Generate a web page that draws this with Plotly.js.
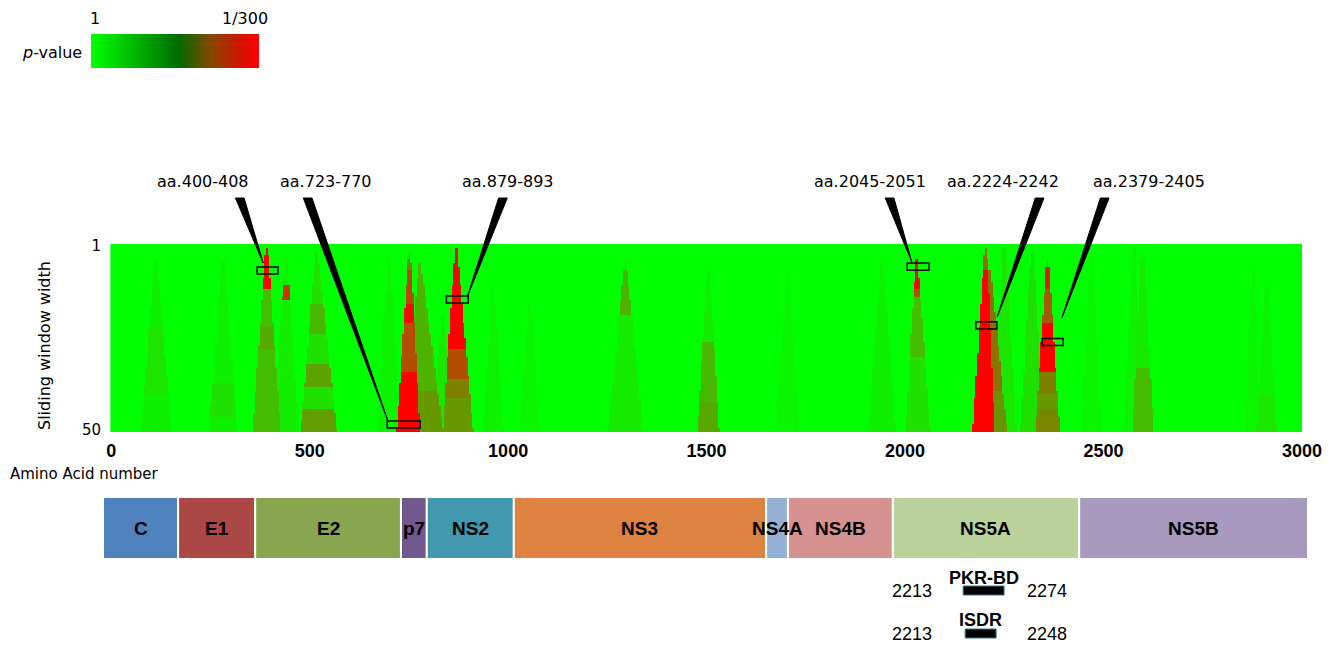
<!DOCTYPE html>
<html><head><meta charset="utf-8">
<script src="https://cdn.plot.ly/plotly-3.0.1.min.js"></script>
<style>html,body{margin:0;padding:0;background:#fff;}#chart{width:1336px;height:645px;}</style>
</head><body><div id="chart"></div>
<script>
// ---------------- DATA ----------------
const windowWidths = 50;          // sliding window widths 1..50
const aaStep = 4;                 // column resolution (amino acids)
const aaMax = 3000;
const xTickValues = [0, 500, 1000, 1500, 2000, 2500, 3000];
const yTickValues = [1, 50];

// significance peaks (value: 0 = p 1 ... 1 = p 1/300)
const peakCenter  = [113, 282, 392, 441, 518, 700, 752, 778, 869, 835, 963, 1055, 1296, 1505, 1705, 1943, 2030, 2204, 2215, 2251, 2321, 2360, 2470, 2577, 2600, 2877, 2912];
const peakApexRow = [5,   5,   2,   5,   3,   5,   3,   6,   2,   20,  13,  17,   6,    8,    10,   6,    5,    2,    8,    2,    3,    5,    3,    2,    3,    8,    11];
const peakHalfWidthLeft  = [38, 35, 35, 32, 40, 30, 32, 40, 33, 25, 25, 25, 44, 27, 30, 35, 28, 33, 22, 30, 30, 30, 25, 25, 27, 20, 25];
const peakHalfWidthRight = [38, 35, 35, 32, 50, 30, 26, 58, 43, 25, 25, 25, 44, 27, 30, 35, 34, 23, 42, 30, 30, 30, 25, 25, 27, 20, 25];
const peakBaseValue = [0.06, 0.06, 0.26, 0.07, 0.12, 0.05, 0.5, 0.3, 0.4, 0.1, 0.05, 0.04, 0.08, 0.08, 0.04, 0.06, 0.12, 1.0, 0.55, 0.1, 0.12, 0.45, 0.04, 0.05, 0.08, 0.04, 0.05];
const peakBands = [
  [[23,41,0.11]],
  [[38,47,0.12]],
  [[2,13,1.0],[23,29,0.34]],
  [[12,16,0.8]],
  [[17,25,0.28],[33,39,0.36],[45,51,0.38]],
  [],
  [[8,17,0.72],[17,22,0.95],[22,35,0.7],[35,51,1.0]],
  [[40,51,0.4]],
  [[2,29,1.0],[29,37,0.7],[37,42,0.5]],
  [], [], [],
  [[6,20,0.3]],
  [[27,43,0.28],[43,51,0.34]],
  [], [],
  [[5,13,1.0],[13,15,0.7],[15,31,0.26]],
  [[2,8,0.6]],
  [[40,51,0.42]],
  [], [],
  [[7,13,0.9],[13,22,0.65],[22,35,1.0],[35,41,0.5],[41,45,0.4],[45,51,0.48]],
  [], [],
  [[34,51,0.26]],
  [],
  [[41,51,0.1]]
];

// highlighted regions (callouts)
const calloutLabels     = ['aa.400-408','aa.723-770','aa.879-893','aa.2045-2051','aa.2224-2242','aa.2379-2405'];
const calloutLabelAA    = [232, 542, 1000, 1912, 2247, 2615];
const calloutWedgeTopAA = [324, 495, 987, 1961, 2339, 2503];
const calloutTipAA      = [383, 698, 897, 2017, 2232, 2395];
const calloutTipRow     = [5.55, 47.8, 14.6, 5.3, 19.9, 20.2];
const calloutBoxAA      = [394, 737, 872, 2033, 2205, 2372];
const calloutBoxWidthAA = [53, 83, 55, 55, 53, 53];
const calloutBoxRow     = [7.55, 48.5, 15.25, 6.5, 22.15, 26.55];

// genome map
const proteinNames = ['C','E1','E2','p7','NS2','NS3','NS4A','NS4B','NS5A','NS5B'];
const proteinStart = [0, 189, 383, 750, 815, 1034, 1669, 1724, 1988, 2457];
const proteinEnd   = [189, 383, 750, 815, 1034, 1669, 1724, 1988, 2457, 3033];

const motifNames = ['PKR-BD', 'ISDR'];
const motifStartLabel = ['2213', '2213'];
const motifEndLabel   = ['2274', '2248'];
const motifDrawStart  = [2165, 2170];
const motifDrawEnd    = [2268, 2248];

const legendLabels = ['1', '1/300'];

// ---------------- STYLE ----------------
const W = 1336, H = 645;
const px = v => v / W, py = v => 1 - v / H;
const FONT_REG = 'DejaVu Sans, Liberation Sans, sans-serif';
const FONT_BOLD = 'Liberation Sans, Arial, sans-serif';
const proteinColors = ['#4f81bd','#ab4845','#8aa54f','#71588f','#4198af','#dd8240','#95b0d5','#d69291','#bcd29c','#a899bf'];
const heatScale = [[0,'#00ff00'],[1,'#ff0000']];
const legendScale = [[0,'#00ff00'],[0.52,'#006b00'],[0.72,'#8a4500'],[0.9,'#d81000'],[1,'#ff0000']];

const xDomain = [px(108), px(1302)];
const yDomain = [py(432), py(244)];
const rowToPaper = r => yDomain[0] + (yDomain[1] - yDomain[0]) * (50.5 - r) / 50;

// ---------------- BUILD HEATMAP ----------------
const xs = []; for (let a = 0; a <= aaMax; a += aaStep) xs.push(a);
const ys = []; for (let r = 1; r <= windowWidths; r++) ys.push(r);
const z = ys.map(r => xs.map(a => {
  let v = 0;
  for (let i = 0; i < peakCenter.length; i++) {
    const apex = peakApexRow[i];
    if (r + 0.5 < apex) continue;
    const f = Math.max(0, (r - apex) / (windowWidths - apex));
    const hwl = 3 + (peakHalfWidthLeft[i] - 3) * f;
    const hwr = 3 + (peakHalfWidthRight[i] - 3) * f;
    const d = a - peakCenter[i];
    if (d < -hwl || d > hwr) continue;
    let val = peakBaseValue[i];
    for (const b of peakBands[i]) if (r >= b[0] && r < b[1]) val = b[2];
    if (val > v) v = val;
  }
  return v;
}));

const traces = [
  {type:'heatmap', x: xs, y: ys, z: z, zmin: 0, zmax: 1, colorscale: heatScale,
   showscale: false, zsmooth: false, hoverinfo: 'skip', xaxis: 'x', yaxis: 'y'},
  {type:'bar', orientation:'h', xaxis:'x2', yaxis:'y2',
   y: proteinNames.map(() => 0), base: proteinStart,
   x: proteinEnd.map((e, i) => e - proteinStart[i]), width: 1,
   marker: {color: proteinColors, line: {color: '#ffffff', width: 2}},
   hoverinfo: 'skip', textposition: 'none'},
  {type:'heatmap', xaxis:'x3', yaxis:'y3', x: [0, 1], y: [0], z: [[0, 1]],
   zmin: 0, zmax: 1, colorscale: legendScale, zsmooth: 'best', showscale: false, hoverinfo: 'skip'}
];

// ---------------- SHAPES & ANNOTATIONS ----------------
const shapes = [];
const annotations = [];
const wedgeHalf = 11;
calloutLabels.forEach((lab, i) => {
  annotations.push({xref:'x', yref:'paper', x: calloutLabelAA[i], y: py(181), text: lab,
    showarrow:false, xanchor:'center', yanchor:'middle', font:{family:FONT_REG, size:16, color:'#000'}});
  const yTop = py(198), yTip = rowToPaper(calloutTipRow[i]);
  shapes.push({type:'path', xref:'x', yref:'paper', layer:'above',
    path: `M ${calloutWedgeTopAA[i]-wedgeHalf},${yTop} L ${calloutWedgeTopAA[i]+wedgeHalf},${yTop} L ${calloutTipAA[i]},${yTip} Z`,
    fillcolor:'#000', line:{color:'#000', width:1}});
  shapes.push({type:'rect', xref:'x', yref:'y', layer:'above',
    x0: calloutBoxAA[i] - calloutBoxWidthAA[i]/2, x1: calloutBoxAA[i] + calloutBoxWidthAA[i]/2,
    y0: calloutBoxRow[i] - 0.95, y1: calloutBoxRow[i] + 0.95,
    line:{color:'#000', width:1.5}, fillcolor:'rgba(0,0,0,0)'});
});

proteinNames.forEach((n, i) => {
  annotations.push({xref:'x2', yref:'y2', x: (proteinStart[i] + proteinEnd[i]) / 2, y: 0, text: n,
    showarrow:false, xanchor:'center', yanchor:'middle',
    font:{family:FONT_BOLD, size:19, color:'#000', weight:'bold'}});
});

const motifBarY = [590.5, 633.5], motifLabelY = [578, 620];
motifNames.forEach((n, i) => {
  shapes.push({type:'rect', xref:'x2', yref:'paper', x0: motifDrawStart[i], x1: motifDrawEnd[i],
    y0: py(motifBarY[i] + 4.5), y1: py(motifBarY[i] - 4.5), fillcolor:'#000', line:{color:'#3d7a88', width:1}});
  annotations.push({xref:'x2', yref:'paper', x: (motifDrawStart[i] + motifDrawEnd[i]) / 2, y: py(motifLabelY[i]), text: n,
    showarrow:false, xanchor:'center', yanchor:'middle', font:{family:FONT_BOLD, size:18, color:'#000', weight:'bold'}});
  annotations.push({xref:'paper', yref:'paper', x: px(912), y: py(motifBarY[i]), text: motifStartLabel[i],
    showarrow:false, xanchor:'center', yanchor:'middle', font:{family:FONT_BOLD, size:18, color:'#000'}});
  annotations.push({xref:'paper', yref:'paper', x: px(1047), y: py(motifBarY[i]), text: motifEndLabel[i],
    showarrow:false, xanchor:'center', yanchor:'middle', font:{family:FONT_BOLD, size:18, color:'#000'}});
});

// legend texts
annotations.push({xref:'paper', yref:'paper', x: px(88), y: py(18), text: legendLabels[0], showarrow:false,
  xanchor:'left', yanchor:'middle', font:{family:FONT_REG, size:16, color:'#000'}});
annotations.push({xref:'paper', yref:'paper', x: px(270), y: py(18), text: legendLabels[1], showarrow:false,
  xanchor:'right', yanchor:'middle', font:{family:FONT_REG, size:16, color:'#000'}});
annotations.push({xref:'paper', yref:'paper', x: px(84), y: py(52), text: '<i>p</i>-value', showarrow:false,
  xanchor:'right', yanchor:'middle', font:{family:FONT_REG, size:16, color:'#000'}});
// axis titles
annotations.push({xref:'paper', yref:'paper', x: px(44), y: py(346), text: 'Sliding window width', showarrow:false,
  textangle:-90, xanchor:'center', yanchor:'middle', font:{family:FONT_REG, size:16, color:'#000'}});
annotations.push({xref:'paper', yref:'paper', x: px(8), y: py(474), text: 'Amino Acid number', showarrow:false,
  xanchor:'left', yanchor:'middle', font:{family:FONT_REG, size:15, color:'#000'}});

const layout = {
  width: W, height: H, margin:{l:0, r:0, t:0, b:0}, showlegend:false,
  paper_bgcolor:'#fff', plot_bgcolor:'#fff',
  xaxis: {domain: xDomain, range:[-8, 3000], tickvals: xTickValues, ticktext: xTickValues.map(String),
    ticks:'', showgrid:false, zeroline:false, showline:false, anchor:'y', ticklabelstandoff: 6,
    tickfont:{family:FONT_BOLD, size:18, color:'#000', weight:'bold'}},
  yaxis: {domain: yDomain, range:[50.5, 0.5], tickvals: yTickValues, ticktext: yTickValues.map(String),
    ticks:'', showgrid:false, zeroline:false, showline:false, anchor:'x', ticklabelstandoff: 6,
    tickfont:{family:FONT_REG, size:15, color:'#000'}},
  xaxis2: {domain:[px(103), px(1308)], range:[0, 3033], visible:false, anchor:'y2', fixedrange:true},
  yaxis2: {domain:[py(559), py(497)], range:[-0.5, 0.5], visible:false, anchor:'x2', fixedrange:true},
  xaxis3: {domain:[px(91), px(259)], range:[0, 1], visible:false, anchor:'y3'},
  yaxis3: {domain:[py(68), py(34)], range:[-0.5, 0.5], visible:false, anchor:'x3'},
  shapes: shapes, annotations: annotations
};

Plotly.newPlot('chart', traces, layout, {displayModeBar:false, staticPlot:true});
</script></body></html>
